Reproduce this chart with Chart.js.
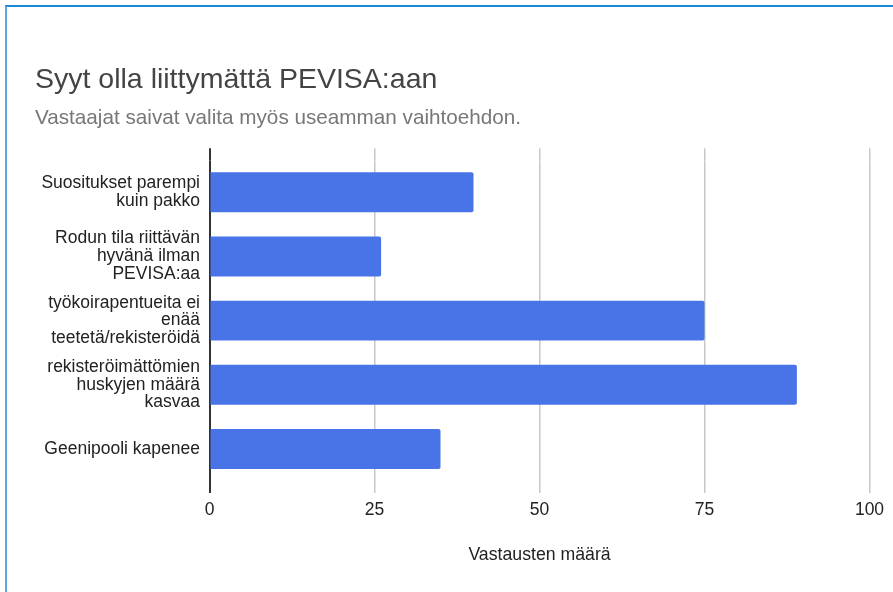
<!DOCTYPE html>
<html>
<head>
<meta charset="utf-8">
<script src="https://cdn.jsdelivr.net/npm/chart.js@4"></script>
<style>
  html, body { margin: 0; padding: 0; background: #fff; }
  #wrap { position: absolute; left: 0; top: 0; width: 893px; height: 592px; overflow: hidden; }
  #frame { position: absolute; left: 5px; top: 5px; width: 2000px; height: 2000px;
           border-top: 2px solid #1b88d8; border-left: 2px solid #5aa9de; pointer-events: none; }
  canvas { position: absolute; left: 0; top: 0; }
</style>
</head>
<body>
<div id="wrap">
  <canvas id="c" width="893" height="592"></canvas>
  <div id="frame"></div>
</div>
<script>
const titleText = "Syyt olla liittymättä PEVISA:aan";
const subtitleText = "Vastaajat saivat valita myös useamman vaihtoehdon.";
const axisTitle = "Vastausten määrä";
const categories = [
  ["Suositukset parempi", "kuin pakko"],
  ["Rodun tila riittävän", "hyvänä ilman", "PEVISA:aa"],
  ["työkoirapentueita ei", "enää", "teetetä/rekisteröidä"],
  ["rekisteröimättömien", "huskyjen määrä", "kasvaa"],
  ["Geenipooli kapenee"]
];
const values = [40, 26, 75, 89, 35];
const xTicks = [0, 25, 50, 75, 100];

const FONT = "'Liberation Sans', Arial, sans-serif";
const gridColor = ctx => (ctx.tick && ctx.tick.value === 0) ? '#333333' : '#c8c8c8';
const gridWidth = ctx => (ctx.tick && ctx.tick.value === 0) ? 2 : 1.5;

new Chart(document.getElementById('c'), {
  type: 'bar',
  data: {
    labels: categories,
    datasets: [{
      data: values,
      backgroundColor: '#4874e8',
      borderWidth: 0,
      borderRadius: 2,
      categoryPercentage: 1,
      barPercentage: 0.623
    }]
  },
  options: {
    indexAxis: 'y',
    responsive: false,
    animation: false,
    layout: { padding: { top: 0, left: 35, right: 23.5, bottom: 26.4 } },
    plugins: {
      legend: { display: false },
      tooltip: { enabled: false },
      title: {
        display: true, text: titleText, align: 'start', color: '#444444',
        font: { family: FONT, size: 28.5, weight: 'normal', lineHeight: 1.2 },
        padding: { top: 63.5, bottom: 0 }
      },
      subtitle: {
        display: true, text: subtitleText, align: 'start', color: '#777777',
        font: { family: FONT, size: 20.7, weight: 'normal', lineHeight: 1.2 },
        padding: { top: 8.6, bottom: 17.1 }
      }
    },
    scales: {
      x: {
        type: 'linear', position: 'bottom', min: 0, max: 100,
        afterBuildTicks: s => { s.ticks = xTicks.map(v => ({ value: v })); },
        afterFit: s => { s.height = 84.6; },
        border: { display: false },
        grid: { color: gridColor, lineWidth: gridWidth, drawTicks: true, tickLength: 12, tickColor: gridColor, tickWidth: gridWidth },
        ticks: { color: '#222222', padding: 6.5, font: { family: FONT, size: 17.5, lineHeight: 1.2 }, maxRotation: 0 },
        title: {
          display: true, text: axisTitle, color: '#222222',
          font: { family: FONT, size: 17.7, lineHeight: 1.2 },
          padding: { top: 23.9, bottom: 0 }
        }
      },
      x2: {
        type: 'linear', position: 'top', min: 0, max: 100,
        afterBuildTicks: s => { s.ticks = xTicks.map(v => ({ value: v })); },
        afterFit: s => { s.height = 12; },
        border: { display: false },
        grid: { drawOnChartArea: false, drawTicks: true, tickLength: 12, color: gridColor, lineWidth: gridWidth, tickColor: gridColor, tickWidth: gridWidth },
        ticks: { display: false }
      },
      y: {
        type: 'category',
        afterFit: s => { s.width = 174.5; },
        border: { display: false },
        grid: { display: false, drawTicks: false },
        ticks: { color: '#222222', padding: 9.5, font: { family: FONT, size: 17.5, lineHeight: 1.02 }, autoSkip: false }
      }
    }
  }
});
</script>
</body>
</html>
